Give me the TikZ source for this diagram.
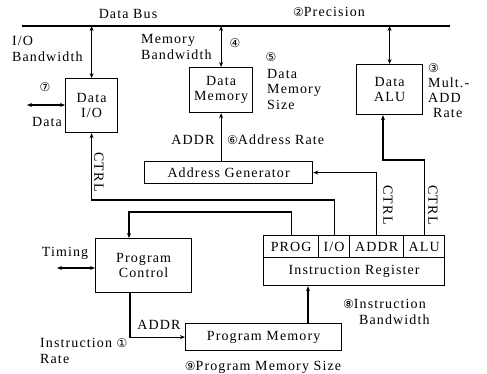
\documentclass[tikz,border=0pt]{standalone}
\usepackage{fontspec}
\setmainfont[LetterSpace=8]{Liberation Serif}
\newfontfamily\cfont{DejaVu Sans}
\usetikzlibrary{arrows.meta}
\newcommand{\cn}[1]{{\cfont\fontsize{12}{13}\selectfont #1}}
\begin{document}
\begin{tikzpicture}[x=1pt,y=-1pt,
 font=\fontsize{14}{15.5}\selectfont,
 box/.style={draw,line width=1.2pt,inner sep=0pt,align=center,anchor=north west},
 lab/.style={inner sep=0pt,align=left},
 vlab/.style={inner sep=0pt,rotate=-90},
 wire/.style={line width=1.2pt},
 arr/.style={wire,-{Stealth[length=5pt,width=4pt]}},
 darr/.style={wire,{Stealth[length=5pt,width=4pt]}-{Stealth[length=5pt,width=4pt]}}]
\useasboundingbox (0,0) rectangle (487,373);

% bus
\coordinate (busL) at (22,26);
\coordinate (busR) at (450,26);
\draw[wire] (busL) -- (busR);

% boxes
\node[box,minimum width=52pt,minimum height=54pt] (dio) at (65,78) {Data\\I/O};
\node[box,minimum width=63pt,minimum height=45pt] (dmem) at (189,67) {Data\\Memory};
\node[box,minimum width=66pt,minimum height=50pt] (dalu) at (356,64) {Data\\ALU};
\node[box,minimum width=168pt,minimum height=22pt] (agen) at (144,161) {Address Generator};
\node[box,minimum width=55pt,minimum height=22pt] (prog) at (263,235) {PROG};
\node[box,minimum width=31pt,minimum height=22pt] (io) at (318,235) {I/O};
\node[box,minimum width=54pt,minimum height=22pt] (addr) at (349,235) {ADDR};
\node[box,minimum width=41pt,minimum height=22pt] (alu) at (403,235) {ALU};
\node[box,minimum width=181pt,minimum height=28pt] (ireg) at (263,257) {Instruction Register};
\node[box,minimum width=96pt,minimum height=54pt] (pctl) at (95,238) {Program\\Control};
\node[box,minimum width=156pt,minimum height=27pt] (pmem) at (185,323) {Program Memory};

% bus connections
\draw[darr] (dio.north |- busL) -- (dio.north);
\draw[darr] (dmem.north |- busL) -- (dmem.north);
\draw[darr] (dalu.north |- busL) -- (dalu.north);

% data and timing
\coordinate (dat) at (27,105);
\draw[darr] (dat) -- (dat -| dio.west);
\coordinate (tim) at (57,268);
\draw[darr] (tim) -- (tim -| pctl.west);

% address generator to data memory
\draw[arr] (dmem.south |- agen.north) -- (dmem.south);

% control lines
\coordinate (ioT) at (0,200);
\draw[arr] (io.north) |- (dio.south |- ioT) -- (dio.south);
\coordinate (pcIn) at (129,212);
\draw[arr] (prog.north) |- (pcIn) -- (pcIn |- pctl.north);
\draw[arr] (addr.north) |- (agen.east);
\coordinate (aluT) at (383,160);
\draw[arr] (alu.north) |- (aluT) -- (aluT |- dalu.south);

% program control to program memory
\coordinate (pcOut) at (130,0);
\draw[arr] (pcOut |- pctl.south) |- (pmem.west);

% program memory to instruction register
\coordinate (irin) at (308,0);
\draw[arr] (irin |- pmem.north) -- (irin |- ireg.south);

% labels
\node[lab] (lbus) at (128,14) {Data Bus};
\node[lab] (lprec) at (329,12) {\cn{②}Precision};
\node[lab,anchor=west] (liob) at (12,49) {I/O\\Bandwidth};
\node[lab] (l7) at (45,87) {\cn{⑦}};
\node[lab] (ldata) at (47,122) {Data};
\node[lab,anchor=west] (lmb) at (141,47) {Memory\\Bandwidth};
\node[lab] (l4) at (235,43) {\cn{④}};
\node[lab] (l5) at (271,57) {\cn{⑤}};
\node[lab,anchor=west] (ldms) at (267,89) {Data\\Memory\\Size};
\node[lab,anchor=west] (l3) at (428,68) {\cn{③}};
\node[lab,anchor=west] (lmult) at (428,83) {Mult.-};
\node[lab,anchor=west] (ladd) at (428,98) {ADD};
\node[lab,anchor=west] (lrate) at (433,113) {Rate};
\node[lab] (laddr1) at (193,140) {ADDR};
\node[lab,anchor=west] (l6) at (227,140) {\cn{⑥}Address Rate};
\node[vlab] (lctrl1) at (99,172) {CTRL};
\node[vlab] (lctrl2) at (388,205) {CTRL};
\node[vlab] (lctrl3) at (433,205) {CTRL};
\node[lab] (ltim) at (65,253) {Timing};
\node[lab] (laddr2) at (159,325) {ADDR};
\node[lab,anchor=west] (lir) at (40,351) {Instruction \cn{①}\\Rate};
\node[lab] (l9) at (263,367) {\cn{⑨}Program Memory Size};
\node[lab,anchor=west] (l8) at (343,304) {\cn{⑧}Instruction};
\node[lab,anchor=west] (lbw) at (359,320) {Bandwidth};
\end{tikzpicture}
\end{document}
